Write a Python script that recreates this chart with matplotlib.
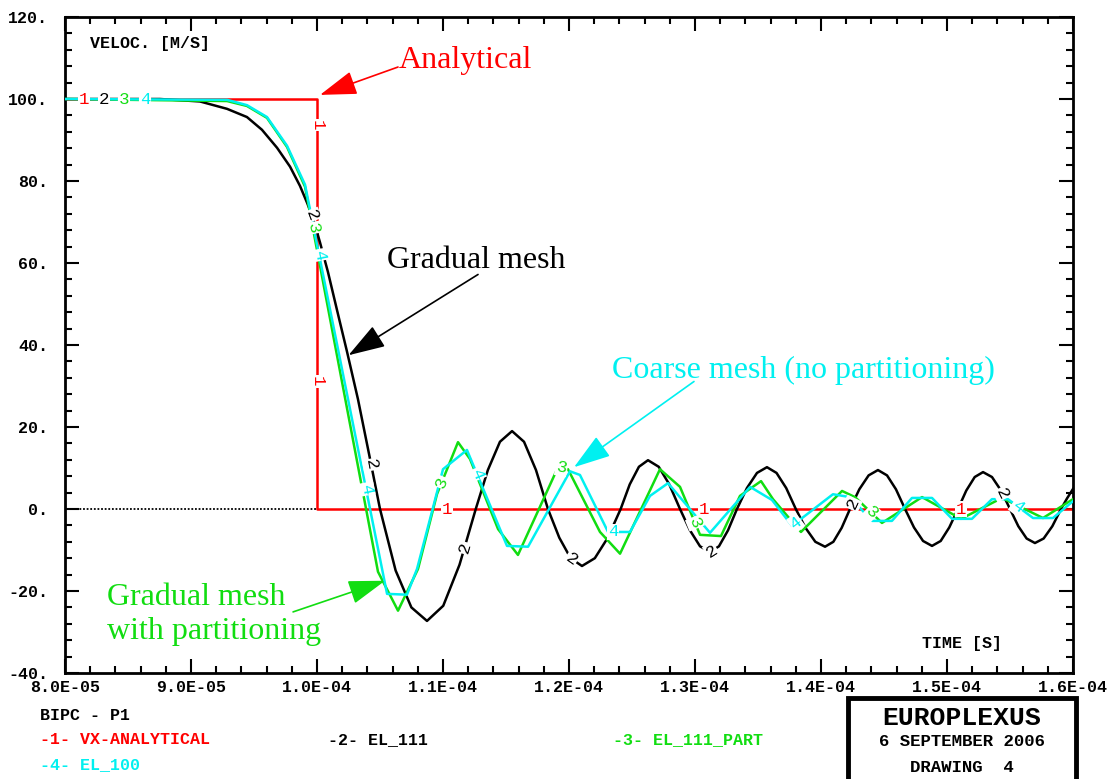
import numpy as np
import matplotlib
matplotlib.use("Agg")
import matplotlib.pyplot as plt
from matplotlib.ticker import MultipleLocator, FuncFormatter
from matplotlib.patches import Rectangle

plt.rcParams['axes.unicode_minus'] = False

E5 = 1e-5  # time values below are given in units of 1E-05 s

# ---- curve 1 : analytical step ----
t1 = np.array([8.0, 10.0, 10.0, 16.0])
v1 = np.array([100.0, 100.0, 0.0, 0.0])

# ---- curve 2 : EL_111 (gradual mesh) ----
t2 = np.array([8.000, 8.754, 9.071, 9.286, 9.444, 9.563, 9.683, 9.786, 9.865, 9.921,
               9.968, 10.024, 10.087, 10.159, 10.238, 10.325, 10.421, 10.500,
               10.624, 10.749, 10.873, 11.002, 11.131, 11.260,
               11.356, 11.452, 11.548, 11.643, 11.738, 11.833,
               11.923, 12.013, 12.103, 12.205, 12.308, 12.410,
               12.482, 12.555, 12.627, 12.712, 12.796, 12.881,
               12.960, 13.040, 13.119, 13.190, 13.262, 13.333,
               13.412, 13.492, 13.571, 13.647, 13.724, 13.800,
               13.877, 13.955, 14.032, 14.098, 14.164, 14.230,
               14.304, 14.378, 14.452, 14.524, 14.595, 14.667,
               14.738, 14.810, 14.881, 14.950, 15.018, 15.087,
               15.153, 15.220, 15.286, 15.357, 15.429, 15.500,
               15.566, 15.632, 15.698, 15.767, 15.836, 15.905,
               15.953, 16.000])
v2 = np.array([100.0, 100.0, 99.4, 97.6, 95.6, 92.5, 88.1, 83.5, 78.8, 74.7,
               71.0, 65.0, 57.8, 48.5, 38.4, 26.8, 12.2, 0.0,
               -15.0, -24.0, -27.3, -23.6, -13.6, 0.0,
               9.5, 16.4, 19.0, 16.4, 9.5, 0.0,
               -7.0, -12.0, -13.9, -12.0, -7.0, 0.0,
               6.0, 10.3, 11.9, 10.3, 6.0, 0.0,
               -5.2, -9.1, -10.5, -9.1, -5.2, 0.0,
               5.1, 8.8, 10.2, 8.8, 5.1, 0.0,
               -4.6, -8.0, -9.2, -8.0, -4.6, 0.0,
               4.8, 8.2, 9.5, 8.2, 4.8, 0.0,
               -4.5, -7.8, -9.0, -7.8, -4.5, 0.0,
               4.5, 7.8, 9.0, 7.8, 4.5, 0.0,
               -4.2, -7.2, -8.3, -7.2, -4.2, 0.0,
               2.6, 4.9])

# ---- curve 3 : EL_111_PART ----
t3 = np.array([8.000, 9.286, 9.444, 9.603, 9.762, 9.905, 10.484, 10.643, 10.802, 10.952,
               11.119, 11.214, 11.437, 11.595, 11.913, 11.992, 12.246, 12.405, 12.722,
               12.881, 13.040, 13.206, 13.357, 13.524, 13.619, 13.841, 14.167, 14.270,
               14.484, 14.802, 15.111, 15.437, 15.762, 16.000])
v3 = np.array([100.0, 99.5, 98.3, 95.4, 88.3, 78.6, -15.3, -24.8, -14.6, 3.6,
               16.3, 12.2, -4.9, -11.2, 10.2, 9.7, -5.6, -10.9, 9.7,
               5.4, -6.3, -6.6, 3.2, 6.8, 2.4, -5.6, 4.4, 2.9,
               -3.4, 2.9, -2.4, 2.7, -2.2, 2.4])

# ---- curve 4 : EL_100 (coarse mesh) ----
t4 = np.array([8.000, 9.286, 9.444, 9.603, 9.762, 9.905, 10.556, 10.714, 10.794, 11.000,
               11.190, 11.508, 11.675, 12.008, 12.087, 12.310, 12.484, 12.643, 12.786,
               13.119, 13.437, 13.611, 13.770, 14.095, 14.230, 14.405, 14.563, 14.722,
               14.881, 15.040, 15.198, 15.357, 15.484, 15.683, 15.841, 16.000])
v4 = np.array([100.0, 99.8, 98.5, 95.6, 88.6, 79.1, -20.7, -20.9, -14.6, 9.7,
               14.4, -9.0, -9.2, 9.2, 8.3, -5.6, -5.6, 3.2, 6.3,
               -5.8, 5.4, 2.2, -4.1, 3.6, 2.9, -2.9, -2.9, 2.7,
               2.7, -2.4, -2.4, 2.4, 2.4, -2.2, -2.2, 1.9])

# curve number labels (positions along curves, time in 1E-05 s)
lab1 = [(8.151, 100.0), (10.0, 93.7), (10.0, 31.1), (11.03, 0.0), (13.07, 0.0), (15.11, 0.0)]
lab2_t = [8.31, 9.96, 10.43, 11.17, 12.02, 13.13, 14.25, 15.44]
lab3_t = [8.468, 9.967, 10.36, 10.99, 11.94, 13.0, 14.40]
lab4_t = [8.635, 10.017, 10.39, 11.27, 12.35, 13.80, 15.56]

RED, BLACK, GREEN, CYAN = '#ff0000', '#000000', '#11dd11', '#00f0f0'
MONO = 'Liberation Mono'
SERIF = 'Liberation Serif'

fig = plt.figure(figsize=(11.2, 7.79), dpi=100)
ax = fig.add_axes([65 / 1120, 1 - 673 / 779, 1008 / 1120, 656 / 779])
ax.set_xlim(8.0 * E5, 16.0 * E5)
ax.set_ylim(-40, 120)

# zero baseline (dotted) before the step
ax.plot([8.0 * E5, 10.0 * E5], [0, 0], linestyle=(0, (1, 1)), color='black', lw=1.3, zorder=1)

lw = 1.8
ax.plot(t1 * E5, v1, color=RED, lw=lw, zorder=2)
ax.plot(t2 * E5, v2, color=BLACK, lw=lw, zorder=3)
ax.plot(t3 * E5, v3, color=GREEN, lw=lw, zorder=4)
ax.plot(t4 * E5, v4, color=CYAN, lw=lw, zorder=5)


def seg_angle(t, v, x):
    i = int(np.searchsorted(t, x))
    i = min(max(i, 1), len(t) - 1)
    p0 = ax.transData.transform((t[i - 1] * E5, v[i - 1]))
    p1 = ax.transData.transform((t[i] * E5, v[i]))
    return np.degrees(np.arctan2(p1[1] - p0[1], p1[0] - p0[0]))


def put_label(txt, x, y, ang, color, z):
    ax.text(x * E5, y, txt, color=color, family=MONO, fontsize=12.5,
            ha='center', va='center', rotation=ang, rotation_mode='anchor',
            bbox=dict(facecolor='white', edgecolor='none', pad=0.6), zorder=z)


for (x, y) in lab1:
    ang = -90 if abs(x - 10.0) < 1e-9 else 0
    put_label('1', x, y, ang, RED, 6)
for x in lab2_t:
    put_label('2', x, np.interp(x, t2, v2), seg_angle(t2, v2, x), BLACK, 7)
for x in lab3_t:
    put_label('3', x, np.interp(x, t3, v3), seg_angle(t3, v3, x), GREEN, 8)
for x in lab4_t:
    put_label('4', x, np.interp(x, t4, v4), seg_angle(t4, v4, x), CYAN, 9)

# axes styling
for s in ax.spines.values():
    s.set_linewidth(2)
ax.xaxis.set_major_locator(MultipleLocator(1e-5))
ax.xaxis.set_minor_locator(MultipleLocator(2e-6))
ax.yaxis.set_major_locator(MultipleLocator(20))
ax.yaxis.set_minor_locator(MultipleLocator(4))
ax.tick_params(which='both', direction='in', top=True, right=True, width=1.5)
ax.tick_params(which='major', length=10)
ax.tick_params(which='minor', length=5)
ax.tick_params(axis='y', pad=12)
ax.tick_params(axis='x', pad=5)
ax.xaxis.set_major_formatter(FuncFormatter(lambda v, p: '%.1E' % v))
ax.yaxis.set_major_formatter(FuncFormatter(lambda v, p: '%d.' % round(v)))
for lab in ax.get_xticklabels() + ax.get_yticklabels():
    lab.set_family(MONO)
    lab.set_fontsize(12)
    lab.set_fontweight('bold')

ax.text(0.0248, 0.959, 'VELOC. [M/S]', transform=ax.transAxes, family=MONO,
        fontsize=12, fontweight='bold', ha='left', va='center')
ax.text(0.850, 0.0457, 'TIME [S]', transform=ax.transAxes, family=MONO,
        fontsize=12, fontweight='bold', ha='left', va='center')

# annotations
arrow = dict(arrowstyle='-|>,head_length=2.3,head_width=0.75', lw=1.2, shrinkA=0, shrinkB=0)
ax.text(10.651 * E5, 107.5, 'Analytical', color=RED, family=SERIF, fontsize=23, va='baseline')
ax.annotate('', xy=(10.024 * E5, 101.0), xytext=(10.643 * E5, 107.8),
            arrowprops=dict(arrow, color=RED), zorder=10)
ax.text(10.556 * E5, 58.9, 'Gradual mesh', color=BLACK, family=SERIF, fontsize=23, va='baseline')
ax.annotate('', xy=(10.25 * E5, 37.5), xytext=(11.278 * E5, 57.2),
            arrowprops=dict(arrow, color=BLACK), zorder=10)
ax.text(12.341 * E5, 31.9, 'Coarse mesh (no partitioning)', color=CYAN, family=SERIF,
        fontsize=23, va='baseline')
ax.annotate('', xy=(12.040 * E5, 10.2), xytext=(12.992 * E5, 31.1),
            arrowprops=dict(arrow, color=CYAN), zorder=10)
ax.text(8.333 * E5, -23.4, 'Gradual mesh', color=GREEN, family=SERIF, fontsize=23, va='baseline')
ax.text(8.333 * E5, -31.6, 'with partitioning', color=GREEN, family=SERIF, fontsize=23, va='baseline')
ax.annotate('', xy=(10.54 * E5, -17.5), xytext=(9.81 * E5, -25.1),
            arrowprops=dict(arrow, color=GREEN), zorder=10)

# footer legend
fkw = dict(family=MONO, fontsize=12, fontweight='bold', va='center', ha='left')
fig.text(40 / 1120, 1 - 715 / 779, 'BIPC - P1', color='black', **fkw)
fig.text(40 / 1120, 1 - 740 / 779, '-1- VX-ANALYTICAL', color=RED, **fkw)
fig.text(328 / 1120, 1 - 740 / 779, '-2- EL_111', color=BLACK, **fkw)
fig.text(613 / 1120, 1 - 740 / 779, '-3- EL_111_PART', color=GREEN, **fkw)
fig.text(40 / 1120, 1 - 765 / 779, '-4- EL_100', color=CYAN, **fkw)

box = Rectangle((848 / 1120, -0.02), (1076 - 848) / 1120, 0.02 + 1 - 698 / 779,
                transform=fig.transFigure, fill=False, lw=3.5, edgecolor='black')
fig.patches.append(box)
ckw = dict(family=MONO, fontweight='bold', ha='center', va='center', color='black')
fig.text(962 / 1120, 1 - 718 / 779, 'EUROPLEXUS', fontsize=19, **ckw)
fig.text(962 / 1120, 1 - 742 / 779, '6 SEPTEMBER 2006', fontsize=12.5, **ckw)
fig.text(962 / 1120, 1 - 767 / 779, 'DRAWING  4', fontsize=12.5, **ckw)

fig.savefig('out.png', dpi=100)
